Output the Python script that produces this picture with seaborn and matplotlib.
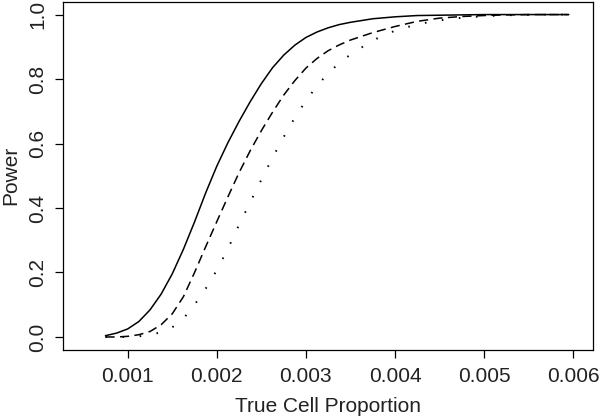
import numpy as np
import pandas as pd
import seaborn as sns
import matplotlib.pyplot as plt

# values
proportion = [0.00075, 0.000875, 0.001, 0.001125, 0.00125, 0.001375, 0.0015,
              0.001625, 0.00175, 0.001875, 0.002, 0.002125, 0.00225,
              0.002375, 0.0025, 0.002625, 0.00275, 0.002875, 0.003,
              0.003125, 0.00325, 0.003375, 0.0035, 0.00375, 0.004, 0.00425,
              0.0045, 0.00475, 0.005, 0.00525, 0.0055, 0.00575, 0.00595]
power_solid = [0.004, 0.012, 0.025, 0.048, 0.084, 0.133, 0.196, 0.272, 0.357,
               0.447, 0.53, 0.603, 0.669, 0.73, 0.786, 0.835, 0.874, 0.905,
               0.929, 0.946, 0.959, 0.969, 0.976, 0.987, 0.993, 0.997, 0.998,
               0.999, 1.0, 1.0, 1.0, 1.0, 1.0]
power_dashed = [0.0, 0.0, 0.002, 0.007, 0.017, 0.038, 0.072, 0.125, 0.20,
                0.28, 0.358, 0.435, 0.51, 0.578, 0.64, 0.697, 0.75, 0.795,
                0.834, 0.864, 0.888, 0.906, 0.921, 0.944, 0.963, 0.979, 0.989,
                0.994, 0.997, 0.999, 1.0, 1.0, 1.0]
power_dotted = [0.0, 0.0, 0.0, 0.002, 0.006, 0.015, 0.03, 0.057, 0.10, 0.15,
                0.207, 0.274, 0.348, 0.418, 0.488, 0.556, 0.62, 0.68, 0.733,
                0.779, 0.818, 0.85, 0.876, 0.92, 0.95, 0.97, 0.982, 0.99,
                0.995, 0.998, 0.999, 1.0, 1.0]

x_ticks = [0.001, 0.002, 0.003, 0.004, 0.005, 0.006]
y_ticks = [0.0, 0.2, 0.4, 0.6, 0.8, 1.0]

sns.set_style("ticks")
plt.rcParams["font.family"] = ["Liberation Sans", "DejaVu Sans"]

n = len(proportion)
df = pd.DataFrame({
    "x": proportion * 3,
    "power": power_solid + power_dashed + power_dotted,
    "curve": ["solid"] * n + ["dashed"] * n + ["dotted"] * n,
})

fig = plt.figure(figsize=(6.0, 4.18), dpi=100)
ax = fig.add_axes([0.1045, 0.163, 0.8835, 0.833])

styles = {"solid": ("-", 1.1), "dashed": ((0, (6, 3.5)), 1.1),
          "dotted": ((0, (0.8, 8)), 1.4)}
for name, (ls, lw) in styles.items():
    sub = df[df["curve"] == name]
    sns.lineplot(data=sub, x="x", y="power", ax=ax, color="black",
                 linewidth=lw, linestyle=ls, legend=False)

ax.set_xlim(0.00027, 0.00622)
ax.set_ylim(-0.04, 1.04)
ax.set_xticks(x_ticks)
ax.set_xticklabels([f"{t:.3f}" for t in x_ticks])
ax.set_yticks(y_ticks)
ax.set_yticklabels([f"{t:.1f}" for t in y_ticks], rotation=90, va="center")
ax.tick_params(axis="both", direction="out", length=6, width=0.9,
               labelsize=15, color="black", labelcolor="#222222")
ax.tick_params(axis="x", pad=6)
ax.tick_params(axis="y", pad=5)
for sp in ax.spines.values():
    sp.set_visible(True)
    sp.set_color("black")
    sp.set_linewidth(0.9)

ax.set_xlabel("True Cell Proportion", fontsize=15, color="#222222", labelpad=8)
ax.set_ylabel("Power", fontsize=15, color="#222222", labelpad=6)

fig.savefig("out.png", dpi=100, facecolor="white")
